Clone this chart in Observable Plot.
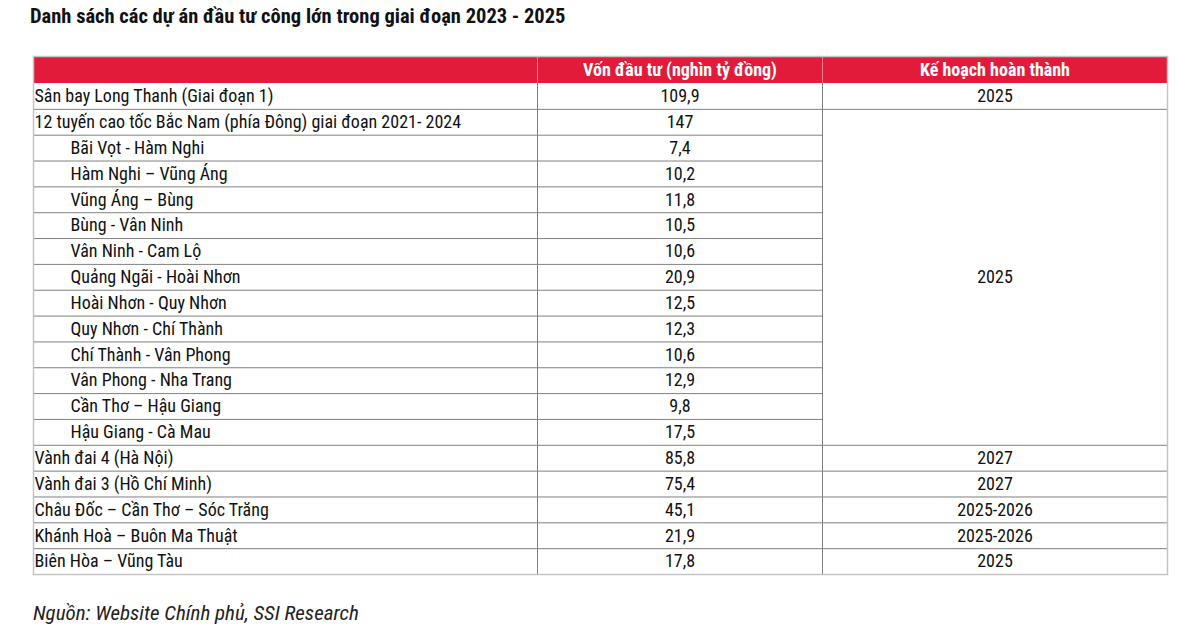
<!DOCTYPE html>
<html>
<head>
<meta charset="utf-8">
<script src="https://cdn.jsdelivr.net/npm/d3@7"></script>
<script src="https://cdn.jsdelivr.net/npm/@observablehq/plot@0.6"></script>
<style>
  html, body { margin: 0; padding: 0; background: #fff; }
  body { width: 1200px; height: 632px; overflow: hidden; font-family: "Liberation Sans Narrow", "Arial Narrow", "Roboto Condensed", sans-serif; }
  #title { height: 40px; box-sizing: border-box; padding: 4px 0 0 30px; font-size: 20.5px; font-weight: bold; line-height: 24px; color: #111; }
  #caption { padding: 11px 0 0 33px; font-size: 21px; font-style: italic; line-height: 24px; color: #222; }
  svg { display: block; }
</style>
</head>
<body>
<div id="title">Danh sách các dự án đầu tư công lớn trong giai đoạn 2023 - 2025</div>
<div id="chart"></div>
<div id="caption">Nguồn: Website Chính phủ, SSI Research</div>
<script>
// ---- data ----
const headers = ["", "Vốn đầu tư (nghìn tỷ đồng)", "Kế hoạch hoàn thành"];
const projects = [
  "Sân bay Long Thanh (Giai đoạn 1)",
  "12 tuyến cao tốc Bắc Nam (phía Đông) giai đoạn 2021- 2024",
  "Bãi Vọt - Hàm Nghi",
  "Hàm Nghi – Vũng Áng",
  "Vũng Áng – Bùng",
  "Bùng - Vân Ninh",
  "Vân Ninh - Cam Lộ",
  "Quảng Ngãi - Hoài Nhơn",
  "Hoài Nhơn - Quy Nhơn",
  "Quy Nhơn - Chí Thành",
  "Chí Thành - Vân Phong",
  "Vân Phong - Nha Trang",
  "Cần Thơ – Hậu Giang",
  "Hậu Giang - Cà Mau",
  "Vành đai 4 (Hà Nội)",
  "Vành đai 3 (Hồ Chí Minh)",
  "Châu Đốc – Cần Thơ – Sóc Trăng",
  "Khánh Hoà – Buôn Ma Thuật",
  "Biên Hòa – Vũng Tàu"
];
const levels = [0, 0, 1, 1, 1, 1, 1, 1, 1, 1, 1, 1, 1, 1, 0, 0, 0, 0, 0];
const capital = [109.9, 147, 7.4, 10.2, 11.8, 10.5, 10.6, 20.9, 12.5, 12.3, 10.6, 12.9, 9.8, 17.5, 85.8, 75.4, 45.1, 21.9, 17.8];
const completion = ["2025", "2025", "2027", "2027", "2025-2026", "2025-2026", "2025"];
const completionSpan = [1, 13, 1, 1, 1, 1, 1]; // rows covered by each (merged) cell

// ---- layout constants ----
const colEdges = [0, 504, 789, 1134];   // table units
const HDR = 1.045;                        // header height in row units
const nRows = projects.length;
const TOTAL = HDR + nRows;
const RED = "#e31b3b";
const GRID = "#808080";
const fmt = v => String(v).replace(".", ",");

const rows = projects.map((name, i) => ({name, level: levels[i], capital: capital[i], i}));
let start = 0;
const groups = completion.map((label, k) => {
  const g = {label, start, span: completionSpan[k]};
  start += completionSpan[k];
  return g;
});
const rowBounds = d3.range(1, nRows).map(i => HDR + i);           // between rows
const groupBounds = groups.slice(1).map(g => HDR + g.start);        // col 3 boundaries

const chart = Plot.plot({
  width: 1200,
  height: 550,
  marginLeft: 33, marginRight: 33, marginTop: 16, marginBottom: 16,
  x: {domain: [colEdges[0], colEdges[3]], axis: null},
  y: {domain: [0, TOTAL], reverse: true, axis: null},
  style: {fontFamily: '"Liberation Sans Narrow", "Arial Narrow", "Roboto Condensed", sans-serif', fontSize: "18px", color: "#111", background: "#fff"},
  marks: [
    Plot.rect([0], {x1: () => colEdges[0], x2: () => colEdges[3], y1: () => 0, y2: () => HDR, fill: RED}),
    Plot.ruleX([colEdges[1], colEdges[2]], {x: d => d, y1: () => 0, y2: () => HDR, stroke: "#fff", strokeOpacity: 0.45}),
    Plot.ruleY(rowBounds, {y: d => d, x1: () => colEdges[0], x2: () => colEdges[2], stroke: GRID}),
    Plot.ruleY(groupBounds, {y: d => d, x1: () => colEdges[2], x2: () => colEdges[3], stroke: GRID}),
    Plot.ruleX([colEdges[1], colEdges[2]], {x: d => d, y1: () => HDR, y2: () => TOTAL, stroke: GRID}),
    Plot.frame({stroke: "#c4c4c4", strokeWidth: 1.5}),
    Plot.text(headers, {
      x: (d, i) => (colEdges[i] + colEdges[i + 1]) / 2, y: () => HDR / 2,
      text: d => d, fill: "#fff", fontWeight: "bold", fontSize: 18
    }),
    Plot.text(rows, {
      x: d => colEdges[0] + (d.level ? 37 : 1), y: d => HDR + d.i + 0.5,
      text: "name", textAnchor: "start", fill: "#111"
    }),
    Plot.text(rows, {
      x: () => (colEdges[1] + colEdges[2]) / 2, y: d => HDR + d.i + 0.5,
      text: d => fmt(d.capital), fill: "#111"
    }),
    Plot.text(groups, {
      x: () => (colEdges[2] + colEdges[3]) / 2, y: d => HDR + d.start + d.span / 2,
      text: "label", fill: "#111"
    })
  ]
});
document.getElementById("chart").appendChild(chart);
</script>
</body>
</html>
